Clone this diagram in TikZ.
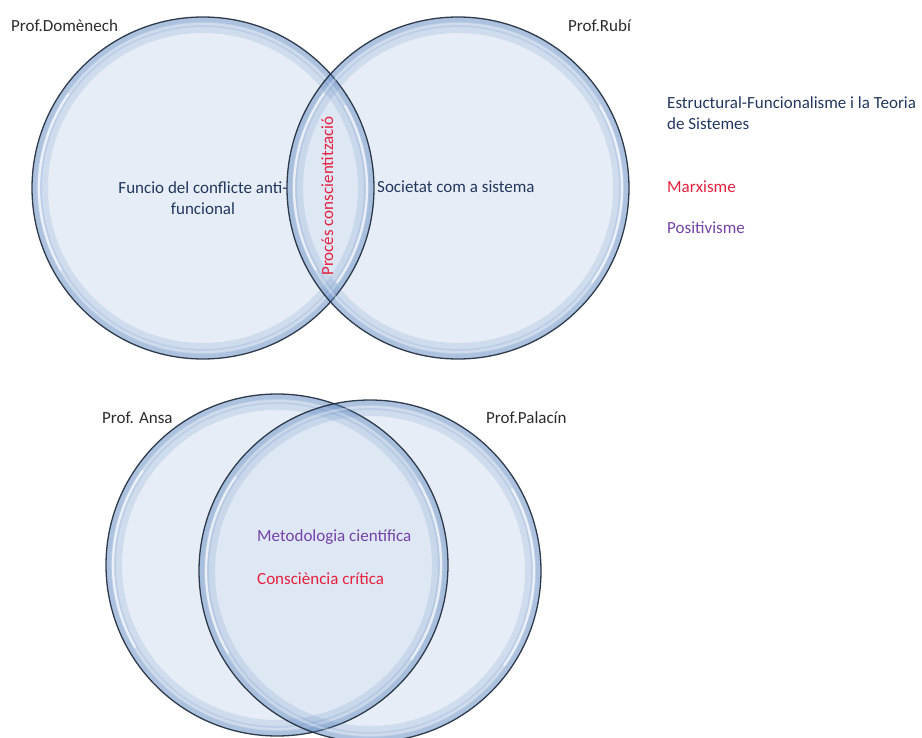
\documentclass[tikz,border=0pt]{standalone}
\usepackage{fontspec}
\setmainfont{Carlito}
\definecolor{vennin}{HTML}{D9E4F2}
\definecolor{vennrim}{HTML}{5F88C2}
\definecolor{vennline}{HTML}{1E2A3C}
\definecolor{navytext}{HTML}{22375F}
\definecolor{greytext}{HTML}{2B2B2B}
\definecolor{redtext}{HTML}{E5213E}
\definecolor{purpletext}{HTML}{7442A8}

\begin{document}
\begin{tikzpicture}[x=1pt, y=-1pt,
          venn/.style={circle, minimum size=342pt, inner sep=0pt,
            fill=vennin, fill opacity=0.65},
          rim/.style={vennrim, opacity=0.17},
          outline/.style={vennline, opacity=0.9, line width=1.3pt},
          gloss/.style={white, line width=2.2pt, line cap=round},
          label/.style={font=\fontsize{17}{21}\selectfont, inner sep=0pt},
        ]
          \useasboundingbox (0,0) rectangle (922,738);
          \coordinate (cd) at (203, 188);
          \coordinate (cr) at (458, 188);
          \coordinate (ca) at (277, 565);
          \coordinate (cp) at (370, 571);
          \node[venn] (domenech) at (cd) {};
          \node[venn] (rubi)     at (cr) {};
          \node[venn] (ansa)     at (ca) {};
          \node[venn] (palacin)  at (cp) {};
          % inner glow along the rims
          \foreach \c in {cd, cr, ca, cp}{
            \foreach \w/\r in {16/163, 10/166, 5/168.5}
              \draw[rim, line width=\w pt] (\c) circle [radius=\r pt];
            \draw[gloss, opacity=0.3] (\c) circle [radius=164pt];
            \draw[gloss, opacity=0.6] ([shift={(150:164)}]\c) arc (150:215:164);
            \draw[gloss, opacity=0.6] ([shift={(-30:164)}]\c) arc (-30:35:164);
            \draw[outline] (\c) circle [radius=171pt];
          }
          \node[label, greytext, anchor=base west] (tdomenech) at (11, 31.5)  {Prof.Domènech};
          \node[label, greytext, anchor=base west] (trubi)     at (568, 31.5) {Prof.Rubí};
          \node[label, greytext, anchor=base west] (tansa)     at (102, 423)  {Prof. Ansa};
          \node[label, greytext, anchor=base west] (tpalacin)  at (486, 423)  {Prof.Palacín};
          \node[label, navytext, anchor=base, align=center] (funcio) at (203, 215)
            {Funcio del conflicte anti-\\funcional};
          \node[label, navytext, anchor=base west] (societat) at (377, 193) {Societat com a sistema};
          \node[label, redtext, rotate=90, anchor=base] (proces) at (333, 196) {Procés conscientització};
          \node[label, purpletext, anchor=base west] (metodologia) at (257, 541) {Metodologia científica};
          \node[label, redtext, anchor=base west] (consciencia) at (257, 584) {Consciència crítica};
          \node[label, navytext, anchor=base west, align=left] (estructural) at (667, 130)
            {Estructural-Funcionalisme i la Teoria\\de Sistemes};
          \node[label, redtext, anchor=base west]    (marxisme)    at (667, 192.5) {Marxisme};
          \node[label, purpletext, anchor=base west] (positivisme) at (667, 233.5) {Positivisme};
        \end{tikzpicture}
\end{document}
